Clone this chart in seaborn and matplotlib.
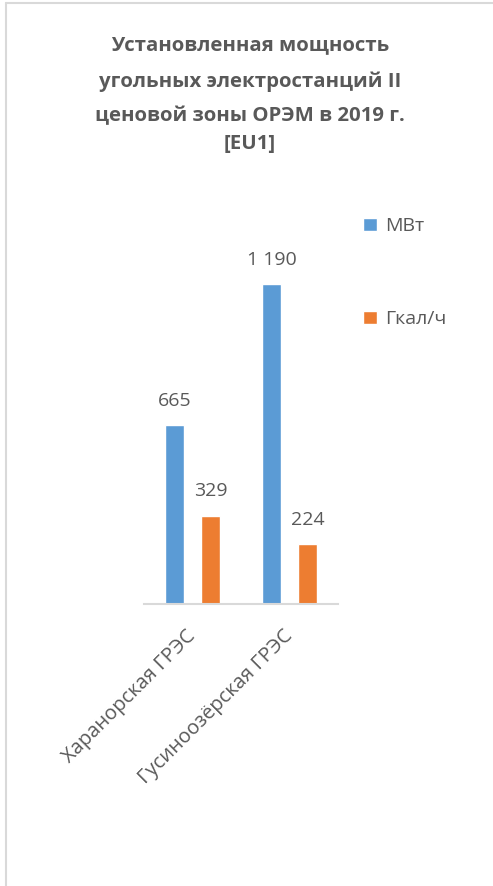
import pandas as pd
import seaborn as sns
import matplotlib.pyplot as plt
from matplotlib.lines import Line2D
from matplotlib.transforms import ScaledTranslation

stations = ["Харанорская ГРЭС", "Гусиноозёрская ГРЭС"]
units = ["МВт", "Гкал/ч"]
mw = [665, 1190]
gcal = [329, 224]

df = pd.DataFrame({
    "station": stations * 2,
    "unit": [units[0]] * 2 + [units[1]] * 2,
    "value": mw + gcal,
})

sns.set_style("white")
plt.rcParams["font.family"] = ["Open Sans", "DejaVu Sans"]
txt = "#595959"

fig = plt.figure(figsize=(4.93, 8.86), dpi=100)
ax = fig.add_axes([0.292, 0.3183, 0.394, 0.4244])

sns.barplot(data=df, x="station", y="value", hue="unit", hue_order=units,
            palette=["#5B9BD5", "#ED7D31"], width=0.74, gap=0.47,
            saturation=1, ax=ax)

ax.set_ylim(0, 1400)
ax.set_xlim(-0.5, 1.5)
ax.set_xlabel("")
ax.set_ylabel("")
ax.set_yticks([])
for s in ["top", "right", "left"]:
    ax.spines[s].set_visible(False)
ax.spines["bottom"].set_color("#D9D9D9")
ax.spines["bottom"].set_linewidth(1.5)
ax.tick_params(axis="x", length=0, pad=16)
shift = ScaledTranslation(-0.07, 0, fig.dpi_scale_trans)
for lab in ax.get_xticklabels():
    lab.set_rotation(45)
    lab.set_ha("right")
    lab.set_rotation_mode("anchor")
    lab.set_fontsize(14.5)
    lab.set_color(txt)
    lab.set_transform(lab.get_transform() + shift)

for cont in ax.containers:
    labels = [f"{int(v):,}".replace(",", " ") for v in cont.datavalues]
    ax.bar_label(cont, labels=labels, padding=11, fontsize=14, color=txt)

ax.legend(loc="upper left", bbox_to_anchor=(1.04, 1.075), frameon=False,
          labelspacing=3.85, handlelength=0.68, handleheight=0.68,
          handletextpad=0.45, fontsize=14, labelcolor=txt)

title_lines = ["Установленная мощность", "угольных электростанций II",
               "ценовой зоны ОРЭМ в 2019 г.", "[EU1]"]
ys = [0.949, 0.908, 0.869, 0.838]
for line, y in zip(title_lines, ys):
    fig.text(0.507, y, line, ha="center", va="center", fontsize=14.7,
             fontweight="bold", color=txt)

fig.add_artist(Line2D([0.012, 0.012], [0, 0.997], color="#D9D9D9", lw=1.5))
fig.add_artist(Line2D([0.012, 1], [0.997, 0.997], color="#D9D9D9", lw=1.5))

fig.savefig("out.png", dpi=100)
